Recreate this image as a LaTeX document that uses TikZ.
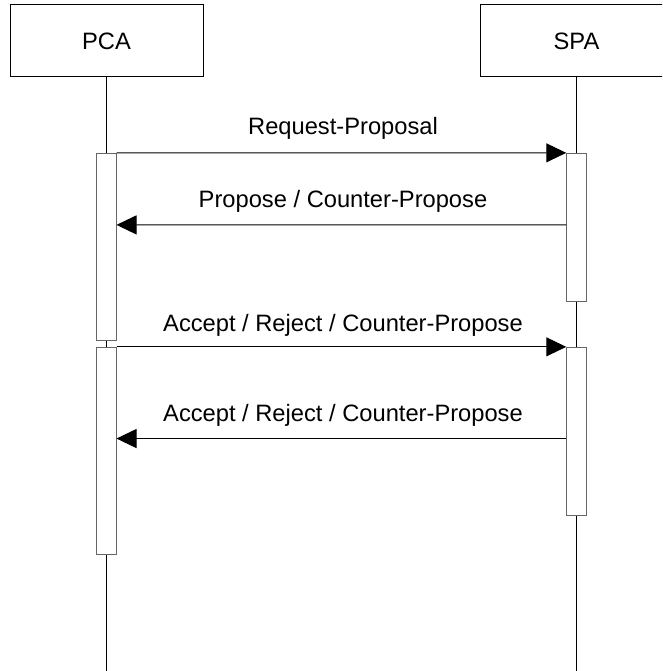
\documentclass[tikz,border=0pt]{standalone}
\usepackage{fontspec}
\setmainfont{Liberation Sans}
\usetikzlibrary{arrows.meta}
\begin{document}
\begin{tikzpicture}[x=1pt,y=-1pt,
  txt/.style={font=\fontsize{23.7}{28}\selectfont},
  actor/.style={txt, draw=black, line width=1pt, minimum width=193pt,
    minimum height=72pt, inner sep=0pt},
  actbox/.style={draw=black!60, line width=0.9pt, fill=white,
    minimum width=19.3pt, inner sep=0pt},
  life/.style={draw=black, line width=1pt},
  msg/.style={draw=black, line width=1pt,
    -{Triangle[length=20pt,width=19pt]}},
  lbl/.style={txt, inner sep=0pt, anchor=base}]
  \useasboundingbox (0,0) rectangle (662,671);
  \clip (0,0) rectangle (662,671);

  % participants
  \node[actor] (pca) at (106.5,41) {PCA};
  \node[actor] (spa) at (576.5,41) {SPA};

  % lifelines
  \coordinate (pcaend) at (106.5,672);
  \coordinate (spaend) at (576.5,672);
  \draw[life] (pca.south) -- (pcaend);
  \draw[life] (spa.south) -- (spaend);

  % activation bars
  \node[actbox, minimum height=186.7pt] (pa1) at (106.4,246.7) {};
  \node[actbox, minimum height=206.7pt] (pa2) at (106.4,450.65) {};
  \node[actbox, minimum height=147.7pt] (sa1) at (576.35,227.15) {};
  \node[actbox, minimum height=168.4pt] (sa2) at (576.35,431.5) {};

  % messages
  \draw[msg] (pa1.north east) -- (sa1.north west);
  \draw[msg] ([yshift=-72pt]sa1.north west) -- ([yshift=-72pt]pa1.north east);
  \draw[msg] (pa2.north east) -- (sa2.north west);
  \draw[msg] ([yshift=-91.7pt]sa2.north west) -- ([yshift=-91.7pt]pa2.north east);

  % message labels
  \node[lbl] (l1) at (343,135) {Request-Proposal};
  \node[lbl] (l2) at (343,207) {Propose / Counter-Propose};
  \node[lbl] (l3) at (343,331.7) {Accept / Reject / Counter-Propose};
  \node[lbl] (l4) at (343,421.7) {Accept / Reject / Counter-Propose};
\end{tikzpicture}
\end{document}
